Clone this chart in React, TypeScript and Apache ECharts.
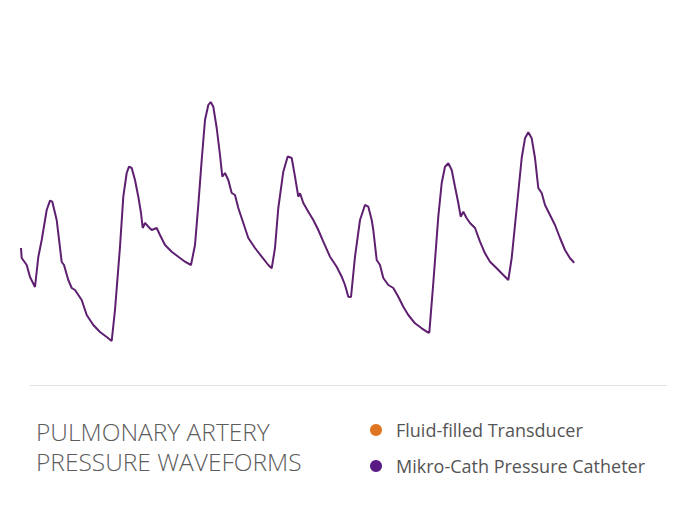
import React, { useEffect, useRef } from "react";
import * as echarts from "echarts";

// Trace: [time (samples), pressure level]
const mikroCathTrace: [number, number][] = [
  [1, 102], [1.7, 92], [6.7, 85], [10, 73], [15, 63], [18.3, 93], [21.7, 110], [26.7, 140],
  [30, 149.3], [32.3, 148.3], [36.7, 130], [41.7, 88], [44, 85], [48.3, 70], [51.7, 62], [55, 60],
  [61.7, 50], [66.7, 35], [73.3, 25], [80, 18], [86.7, 13], [91.7, 9], [95, 40], [100, 103.3],
  [103.3, 153.3], [106.7, 177], [109, 183.3], [111.7, 182], [115, 170], [118.3, 153.3], [121, 137],
  [122.7, 122], [125, 127], [128.3, 123.3], [131.7, 120], [136.7, 122], [140, 115], [145, 105],
  [151.7, 98.3], [158.3, 93.3], [165, 88.3], [171, 85], [175, 105], [178.3, 145], [181.7, 190],
  [185, 230], [188.3, 245], [190.7, 248], [193.3, 243.3], [196.7, 222], [200, 195], [202.3, 173.3],
  [205, 177], [208.3, 170], [211.7, 157], [215, 155], [218.3, 142], [223.3, 127], [228.3, 112],
  [235, 102], [241.7, 93.3], [248.3, 85], [251.7, 81.7], [255, 102], [258.3, 142], [263.3, 178.3],
  [267.7, 193.5], [271.7, 192], [275, 173.3], [278.3, 153.3], [280, 156.7], [283.3, 147],
  [288.3, 138.3], [293.3, 130], [298.3, 120], [303.3, 108.3], [310, 93.3], [316.7, 83.3],
  [321.7, 73.3], [325, 65], [328.3, 53.3], [331, 53], [335, 93.3], [340, 130], [345, 145],
  [348.3, 143.3], [351.7, 130], [353.3, 120], [356.7, 90], [360, 85], [363.3, 72], [368.3, 65],
  [373.3, 62], [378.3, 53.3], [383.3, 43.3], [388.3, 35], [395, 26.7], [401.7, 21.7], [406.7, 18.3],
  [409.3, 17.3], [413.3, 67], [418.3, 133.3], [421.7, 167], [425, 183.3], [428.3, 186.7],
  [431.7, 180], [435, 163.3], [438.3, 147], [440.7, 133.3], [443.3, 138.3], [446.7, 131.7],
  [450, 127], [455, 122], [460, 108.3], [465, 96.7], [470, 88.3], [476.7, 81.7], [483.3, 75],
  [488.3, 70], [491.7, 92], [496.7, 142], [501.7, 192], [505, 211.7], [508.3, 217.7], [511.7, 211.7],
  [515, 192], [518.3, 162], [521.7, 157], [525, 145], [530, 135], [535, 125], [540, 112],
  [545, 100], [550, 91.7], [553.3, 88.3], [554, 87],
];

const fluidFilledTrace: [number, number][] = [];

const seriesNames = ["Fluid-filled Transducer", "Mikro-Cath Pressure Catheter"];
const seriesColors = ["#e07521", "#5a1a86"];
const titleLines = ["PULMONARY ARTERY", "PRESSURE WAVEFORMS"];

export default function App() {
  const ref = useRef<HTMLDivElement>(null);
  useEffect(() => {
    if (!ref.current) return;
    const chart = echarts.init(ref.current, undefined, { renderer: "svg" });
    chart.setOption({
      animation: false,
      backgroundColor: "#ffffff",
      title: {
        text: titleLines.join("\n"),
        left: 36,
        top: 416,
        padding: 0,
        textStyle: {
          fontFamily: "Open Sans",
          fontWeight: 300,
          fontSize: 24.5,
          lineHeight: 30,
          color: "#5c5c5c",
        },
      },
      legend: {
        orient: "vertical",
        left: 370,
        top: 421,
        padding: 0,
        icon: "circle",
        itemWidth: 12,
        itemHeight: 12,
        itemGap: 18,
        data: seriesNames,
        textStyle: {
          fontFamily: "Open Sans",
          fontSize: 18,
          color: "#555555",
          padding: [0, 0, 0, 9],
        },
      },
      grid: { left: 20, top: 90, width: 560, height: 260, containLabel: false },
      xAxis: { type: "value", min: 0, max: 560, show: false },
      yAxis: { type: "value", min: 0, max: 260, show: false },
      graphic: [
        {
          type: "line",
          shape: { x1: 30, y1: 385.5, x2: 667, y2: 385.5 },
          style: { stroke: "#e3e3e3", lineWidth: 1 },
        },
      ],
      series: [
        {
          name: seriesNames[0],
          type: "line",
          data: fluidFilledTrace,
          color: seriesColors[0],
          showSymbol: false,
        },
        {
          name: seriesNames[1],
          type: "line",
          data: mikroCathTrace,
          color: seriesColors[1],
          showSymbol: false,
          lineStyle: { width: 2, color: "#5e1f70" },
        },
      ],
    });
    return () => chart.dispose();
  }, []);
  return <div ref={ref} style={{ width: 700, height: 513, margin: -8 }} />;
}
